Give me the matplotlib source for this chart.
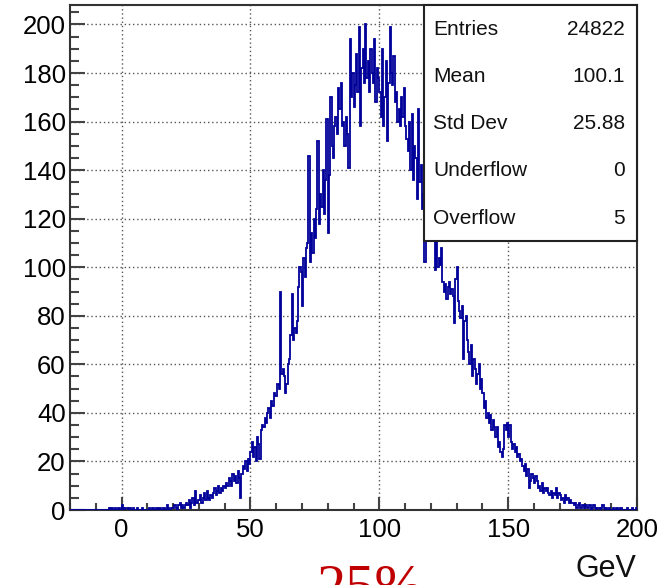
import numpy as np
import matplotlib
matplotlib.use('Agg')
import matplotlib.pyplot as plt
from matplotlib.patches import Rectangle
from matplotlib.ticker import MultipleLocator

plt.rcParams['font.family'] = ['Liberation Sans', 'DejaVu Sans']

# binning in GeV
x_lo = -20.0
x_hi = 200.0
bin_width = 0.5

# bin contents, one row = 5 GeV (10 bins)
counts = [
    0, 0, 0, 0, 0, 0, 0, 0, 0, 0,
    0, 0, 0, 0, 0, 0, 0, 0, 0, 0,
    0, 0, 0, 0, 0, 0, 0, 0, 0, 0,
    1, 0, 1, 0, 0, 1, 0, 1, 1, 0,
    2, 1, 0, 1, 1, 0, 1, 0, 0, 1,
    0, 0, 1, 0, 0, 0, 1, 0, 0, 0,
    0, 1, 0, 0, 1, 0, 0, 1, 0, 1,
    1, 0, 1, 1, 0, 2, 1, 0, 1, 1,
    1, 2, 1, 0, 2, 3, 1, 2, 1, 2,
    3, 2, 4, 1, 3, 5, 2, 8, 3, 4,
    4, 6, 3, 5, 7, 4, 8, 5, 4, 6,
    5, 7, 9, 6, 8, 10, 7, 9, 8, 10,
    9, 11, 10, 13, 12, 10, 15, 12, 14, 11,
    16, 13, 5, 15, 18, 17, 20, 16, 21, 19,
    24, 28, 22, 26, 20, 30, 27, 21, 33, 35,
    34, 38, 36, 40, 42, 38, 45, 43, 48, 47,
    47, 52, 50, 90, 56, 58, 55, 48, 52, 60,
    62, 72, 89, 70, 75, 73, 78, 92, 100, 98,
    84, 104, 96, 108, 110, 146, 102, 114, 106, 120,
    112, 124, 152, 118, 130, 125, 140, 122, 136, 161,
    114, 138, 170, 150, 145, 158, 162, 155, 174, 165,
    176, 158, 160, 150, 162, 155, 141, 194, 170, 180,
    166, 175, 188, 172, 199, 158, 182, 190, 176, 200,
    178, 185, 172, 190, 180, 176, 194, 168, 182, 178,
    172, 162, 190, 158, 170, 185, 152, 176, 199, 180,
    175, 187, 168, 172, 160, 165, 158, 170, 162, 174,
    158, 153, 148, 160, 140, 163, 136, 150, 145, 128,
    165, 135, 142, 124, 130, 102, 120, 132, 126, 118,
    125, 115, 122, 99, 112, 100, 104, 101, 108, 94,
    90, 93, 87, 92, 94, 89, 91, 88, 77, 95,
    100, 86, 82, 79, 84, 62, 78, 80, 70, 65,
    60, 68, 55, 62, 58, 52, 56, 60, 50, 54,
    48, 42, 45, 38, 40, 36, 39, 33, 37, 34,
    30, 34, 26, 28, 24, 22, 25, 35, 33, 36,
    30, 35, 28, 25, 27, 24, 26, 22, 23, 20,
    21, 18, 16, 19, 14, 17, 9, 12, 15, 13,
    11, 14, 12, 9, 10, 8, 11, 7, 9, 8,
    9, 7, 6, 8, 5, 7, 6, 9, 5, 7,
    6, 4, 5, 3, 6, 4, 5, 3, 4, 3,
    3, 2, 3, 1, 2, 3, 1, 2, 2, 1,
    2, 1, 1, 2, 0, 1, 2, 1, 0, 1,
    1, 0, 1, 2, 1, 0, 1, 0, 1, 0,
    0, 1, 0, 0, 1, 0, 0, 1, 0, 0,
    0, 0, 1, 0, 0, 0, 1, 0, 0, 1,
]

# statistics box
stat_names = ['Entries', 'Mean', 'Std Dev', 'Underflow', 'Overflow']
stat_values = ['24822', '100.1', '25.88', '0', '5']

x_label = 'GeV'
note = '25%'

line_color = '#00009a'
frame_color = '#333333'

fig = plt.figure(figsize=(6.66, 5.85), dpi=100)
ax = fig.add_axes([0.1051, 0.1282, 0.8514, 0.8632])

edges = x_lo + bin_width * np.arange(len(counts) + 1)
ax.stairs(counts, edges, color=line_color, lw=1.3, zorder=3)

ax.set_xlim(x_lo, x_hi)
ax.set_ylim(0, 208)

ax.xaxis.set_major_locator(MultipleLocator(50))
ax.xaxis.set_minor_locator(MultipleLocator(10))
ax.yaxis.set_major_locator(MultipleLocator(20))
ax.yaxis.set_minor_locator(MultipleLocator(5))

ax.grid(True, which='major', ls=(0, (1, 2)), color='#555555', lw=1.0, zorder=1)

ax.tick_params(which='both', direction='in', top=False, right=False,
               color='#444444', width=1.5, labelsize=18.5)
ax.tick_params(axis='y', which='major', length=11, pad=3)
ax.tick_params(axis='y', which='minor', length=6.5)
ax.tick_params(axis='x', which='major', length=9.5, pad=6)
ax.tick_params(axis='x', which='minor', length=5)

for s in ax.spines.values():
    s.set_color(frame_color)
    s.set_linewidth(1.5)

# stats panel in the top right corner
ax.add_patch(Rectangle((0.624, 0.533), 0.376, 0.467, transform=ax.transAxes,
                       fc='white', ec='#222222', lw=1.5, zorder=5, clip_on=False))
for i, (name, val) in enumerate(zip(stat_names, stat_values)):
    yy = (510 - (29 + 47.25 * i)) / 505.0
    ax.text(0.640, yy, name, transform=ax.transAxes, ha='left', va='center',
            fontsize=15, color='#111111', zorder=6)
    ax.text(0.979, yy, val, transform=ax.transAxes, ha='right', va='center',
            fontsize=15, color='#111111', zorder=6)

fig.text(0.955, 0.0137, x_label, ha='right', va='baseline', fontsize=22,
         color='#111111')
fig.text(0.555, -0.031, note, ha='center', va='baseline', fontsize=42,
         color='#c00000', family=['Liberation Serif', 'DejaVu Serif'])

fig.savefig('out.png', dpi=100)
